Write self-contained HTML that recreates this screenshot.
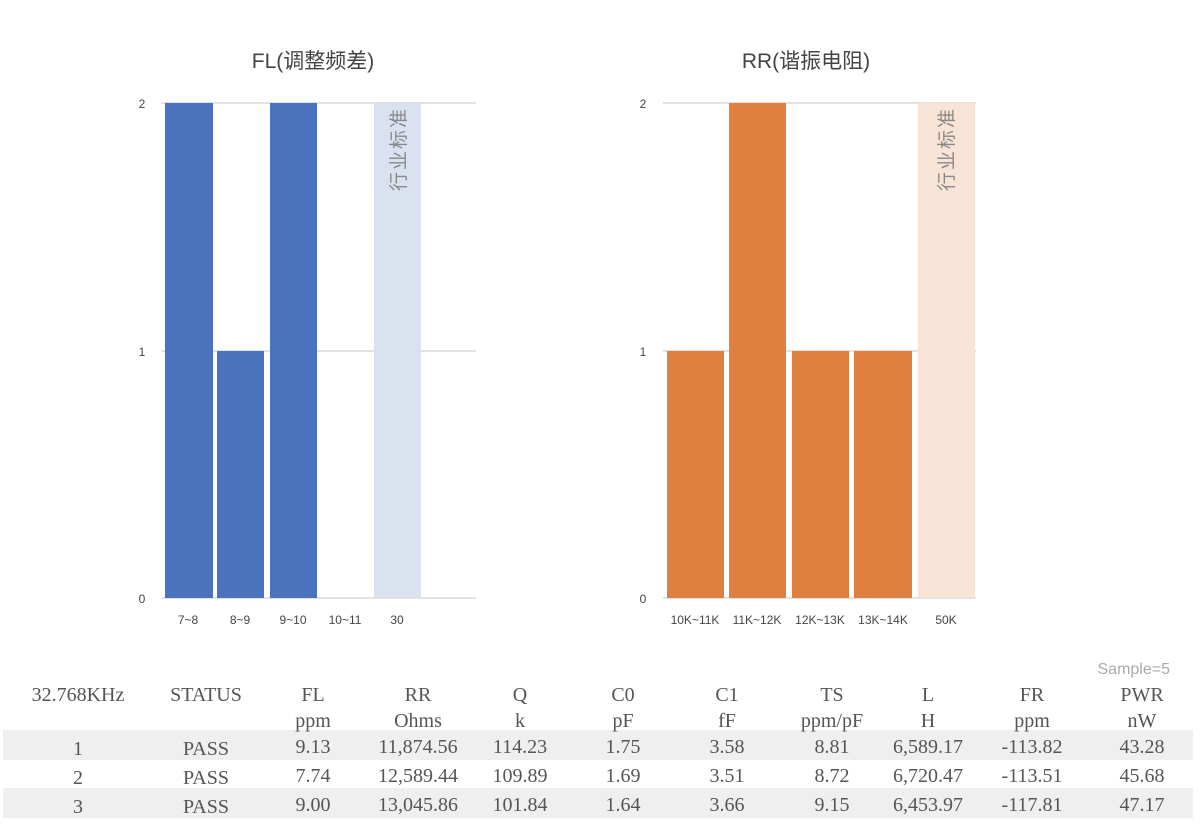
<!DOCTYPE html>
<html><head><meta charset="utf-8"><style>
body{margin:0;background:#fff;}
svg{display:block;}
.ax{font-family:"Liberation Sans","Noto Sans CJK SC",sans-serif;font-size:12px;fill:#444;}
.tt{font-family:"Liberation Sans","Noto Sans CJK SC",sans-serif;font-size:21px;fill:#444;}
.tb{font-family:"Liberation Serif","Noto Serif CJK SC",serif;font-size:20px;fill:#555;}
</style></head><body>
<svg width="1200" height="828" viewBox="0 0 1200 828">
<text class="tt" x="313" y="68" text-anchor="middle">FL(调整频差)</text>
<g stroke="#d9d9d9" stroke-width="1.5">
<line x1="162" y1="103" x2="476" y2="103"/><line x1="162" y1="351" x2="476" y2="351"/><line x1="162" y1="598" x2="476" y2="598"/>
</g>
<text class="ax" x="142" y="108" text-anchor="middle">2</text>
<text class="ax" x="142" y="356" text-anchor="middle">1</text>
<text class="ax" x="142" y="603" text-anchor="middle">0</text>
<rect x="165" y="103" width="48" height="495" fill="#4a72bd"/>
<rect x="217" y="351" width="47" height="247" fill="#4a72bd"/>
<rect x="270" y="103" width="47" height="495" fill="#4a72bd"/>
<rect x="374" y="103" width="47" height="495" fill="#dae2f0"/>
<text x="398" y="107" transform="rotate(-90 398 107)" text-anchor="end" dy="7" letter-spacing="2" font-family="Liberation Sans,Noto Sans CJK SC,sans-serif" font-size="19" fill="#888">行业标准</text>
<text class="ax" x="188" y="624" text-anchor="middle">7~8</text>
<text class="ax" x="240" y="624" text-anchor="middle">8~9</text>
<text class="ax" x="293" y="624" text-anchor="middle">9~10</text>
<text class="ax" x="345" y="624" text-anchor="middle">10~11</text>
<text class="ax" x="397" y="624" text-anchor="middle">30</text>
<text class="tt" x="806" y="68" text-anchor="middle">RR(谐振电阻)</text>
<g stroke="#d9d9d9" stroke-width="1.5">
<line x1="663" y1="103" x2="976" y2="103"/><line x1="663" y1="351" x2="976" y2="351"/><line x1="663" y1="598" x2="976" y2="598"/>
</g>
<text class="ax" x="643" y="108" text-anchor="middle">2</text>
<text class="ax" x="643" y="356" text-anchor="middle">1</text>
<text class="ax" x="643" y="603" text-anchor="middle">0</text>
<rect x="667" y="351" width="57" height="247" fill="#df7f40"/>
<rect x="729" y="103" width="57" height="495" fill="#df7f40"/>
<rect x="792" y="351" width="57" height="247" fill="#df7f40"/>
<rect x="854" y="351" width="58" height="247" fill="#df7f40"/>
<rect x="918" y="103" width="57" height="495" fill="#f8e4d6"/>
<text x="946" y="107" transform="rotate(-90 946 107)" text-anchor="end" dy="7" letter-spacing="2" font-family="Liberation Sans,Noto Sans CJK SC,sans-serif" font-size="19" fill="#888">行业标准</text>
<text class="ax" x="695" y="624" text-anchor="middle">10K~11K</text>
<text class="ax" x="757" y="624" text-anchor="middle">11K~12K</text>
<text class="ax" x="820" y="624" text-anchor="middle">12K~13K</text>
<text class="ax" x="883" y="624" text-anchor="middle">13K~14K</text>
<text class="ax" x="946" y="624" text-anchor="middle">50K</text>
<text x="1170" y="674" text-anchor="end" font-family="Liberation Sans,sans-serif" font-size="16" fill="#aaa">Sample=5</text>
<rect x="3" y="730" width="1190" height="30" fill="#efefef"/>
<rect x="3" y="788" width="1190" height="30" fill="#efefef"/>
<g class="tb" text-anchor="middle">
<text x="78" y="701">32.768KHz</text><text x="206" y="701">STATUS</text>
<text x="313" y="701">FL</text><text x="418" y="701">RR</text><text x="520" y="701">Q</text>
<text x="623" y="701">C0</text><text x="727" y="701">C1</text><text x="832" y="701">TS</text>
<text x="928" y="701">L</text><text x="1032" y="701">FR</text><text x="1142" y="701">PWR</text>
<text x="313" y="727">ppm</text><text x="418" y="727">Ohms</text><text x="520" y="727">k</text>
<text x="623" y="727">pF</text><text x="727" y="727">fF</text><text x="832" y="727">ppm/pF</text>
<text x="928" y="727">H</text><text x="1032" y="727">ppm</text><text x="1142" y="727">nW</text>
<text x="78" y="755">1</text><text x="206" y="755">PASS</text><text x="313" y="753">9.13</text><text x="418" y="753">11,874.56</text><text x="520" y="753">114.23</text><text x="623" y="753">1.75</text><text x="727" y="753">3.58</text><text x="832" y="753">8.81</text><text x="928" y="753">6,589.17</text><text x="1032" y="753">-113.82</text><text x="1142" y="753">43.28</text>
<text x="78" y="784">2</text><text x="206" y="784">PASS</text><text x="313" y="782">7.74</text><text x="418" y="782">12,589.44</text><text x="520" y="782">109.89</text><text x="623" y="782">1.69</text><text x="727" y="782">3.51</text><text x="832" y="782">8.72</text><text x="928" y="782">6,720.47</text><text x="1032" y="782">-113.51</text><text x="1142" y="782">45.68</text>
<text x="78" y="813">3</text><text x="206" y="813">PASS</text><text x="313" y="811">9.00</text><text x="418" y="811">13,045.86</text><text x="520" y="811">101.84</text><text x="623" y="811">1.64</text><text x="727" y="811">3.66</text><text x="832" y="811">9.15</text><text x="928" y="811">6,453.97</text><text x="1032" y="811">-117.81</text><text x="1142" y="811">47.17</text>
</g>
</svg>
</body></html>
